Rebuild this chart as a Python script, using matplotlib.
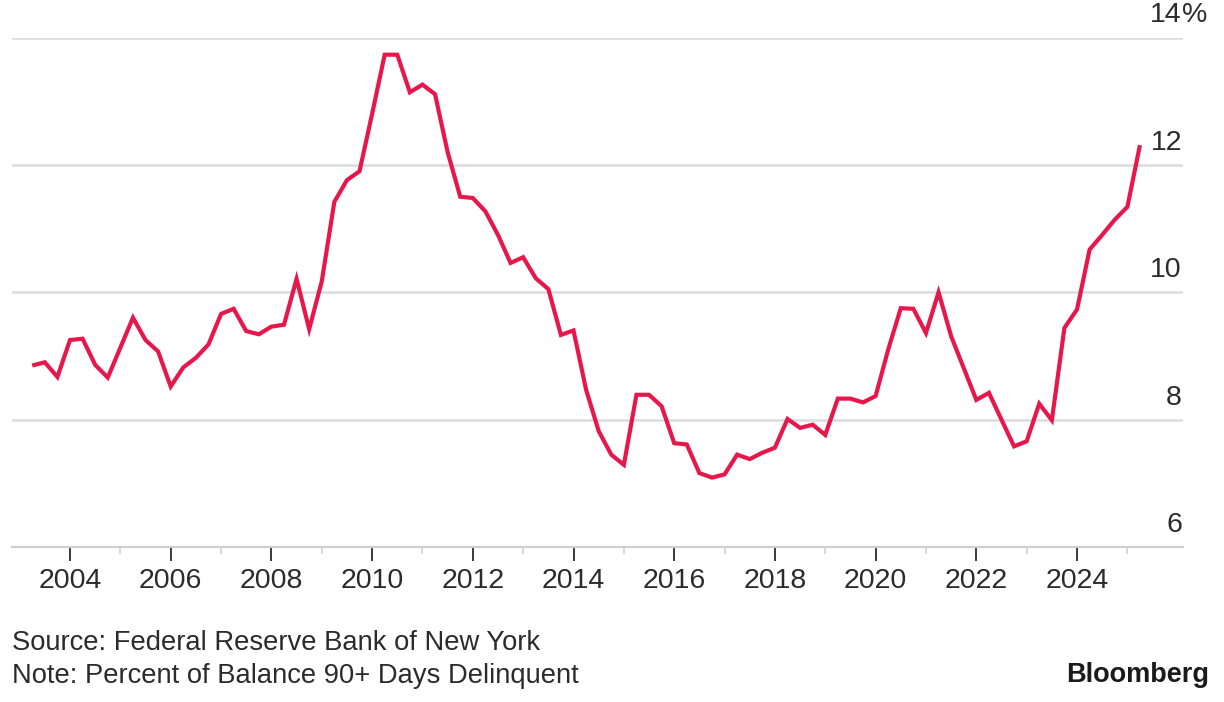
import matplotlib
matplotlib.use("Agg")
import matplotlib.pyplot as plt
import matplotlib.transforms as mtransforms
import pandas as pd

# ---- data (credit card balances 90+ days delinquent, %) ----
quarters = pd.period_range("2003Q1", "2025Q1", freq="Q")
values = [
    8.85, 8.90, 8.67, 9.25, 9.27, 8.86, 8.66, 9.13, 9.60, 9.25,
    9.07, 8.52, 8.82, 8.97, 9.18, 9.66, 9.74, 9.39, 9.34, 9.46,
    9.49, 10.21, 9.42, 10.17, 11.42, 11.76, 11.90, 12.80, 13.73, 13.73,
    13.14, 13.26, 13.11, 12.20, 11.50, 11.48, 11.27, 10.90, 10.46, 10.55,
    10.22, 10.05, 9.33, 9.40, 8.47, 7.82, 7.45, 7.29, 8.39, 8.39,
    8.21, 7.63, 7.61, 7.16, 7.09, 7.14, 7.45, 7.38, 7.48, 7.56,
    8.01, 7.87, 7.92, 7.76, 8.33, 8.33, 8.27, 8.37, 9.10, 9.75,
    9.74, 9.36, 10.00, 9.31, 8.81, 8.31, 8.42, 8.00, 7.58, 7.66,
    8.25, 7.99, 9.44, 9.73, 10.67, 10.90, 11.14, 11.34, 12.31,
]
x_major = list(range(2004, 2025, 2))
x_labels = [str(y) for y in x_major]
x_minor = list(range(2005, 2026, 2))
y_ticks = [6, 8, 10, 12, 14]
y_labels = ["6", "8", "10", "12", "14"]

source_text = "Source: Federal Reserve Bank of New York"
note_text = "Note: Percent of Balance 90+ Days Delinquent"
brand = "Bloomberg"

# ---- style ----
FONT = ["Liberation Sans", "DejaVu Sans"]
plt.rcParams["font.family"] = FONT
LINE = "#E8174B"
GRID = "#dcdcdc"
TXT = "#2b2b2b"

W, H = 1224, 702
fig = plt.figure(figsize=(W / 100, H / 100), dpi=100)
fig.patch.set_facecolor("white")
ax = fig.add_axes([12 / W, 1 - 547 / H, (1183 - 12) / W, (547 - 37.5) / H])

xs = [p.year + p.quarter * 0.25 for p in quarters]
ax.plot(xs, values, color=LINE, lw=3.0, solid_joinstyle="miter", solid_capstyle="butt",
        zorder=3, clip_on=False)

ax.set_xlim(2002.848, 2026.105)
ax.set_ylim(6, 14)

for s in ["top", "right", "left"]:
    ax.spines[s].set_visible(False)
ax.spines["bottom"].set_color("#cfcfcf")
ax.spines["bottom"].set_linewidth(1.6)

ax.set_yticks(y_ticks)
ax.yaxis.grid(True, color=GRID, lw=1.8)
ax.tick_params(axis="y", length=0, labelleft=False, labelright=False)
ax.set_axisbelow(True)

ax.set_xticks(x_major)
ax.set_xticklabels(x_labels)
ax.set_xticks(x_minor, minor=True)
ax.tick_params(axis="x", which="major", length=10, width=1.4, color="#3a3a3a",
               labelsize=20.5, labelcolor=TXT, pad=5)
ax.tick_params(axis="x", which="minor", length=5, width=1.2, color="#d0d0d0")

# y labels above gridlines, right aligned at plot right edge
trans = mtransforms.offset_copy(ax.get_yaxis_transform(), fig=fig, x=-1, y=22, units="dots")
for v, lab in zip(y_ticks, y_labels):
    ax.text(1.0, v, lab, transform=trans, ha="right", va="center",
            fontsize=20.5, color=TXT, clip_on=False)
ax.text(1.0, y_ticks[-1], "%", transform=trans, ha="left", va="center",
        fontsize=20.5, color=TXT, clip_on=False)

fig.text(12 / W, 1 - 643 / H, source_text, ha="left", va="center", fontsize=19.7, color=TXT)
fig.text(12 / W, 1 - 676 / H, note_text, ha="left", va="center", fontsize=19.7, color=TXT)
fig.text(1209 / W, 1 - 675 / H, brand, ha="right", va="center", fontsize=19.5,
         fontweight="bold", color="#1a1a1a")

fig.savefig("out.png", dpi=100, facecolor="white")
